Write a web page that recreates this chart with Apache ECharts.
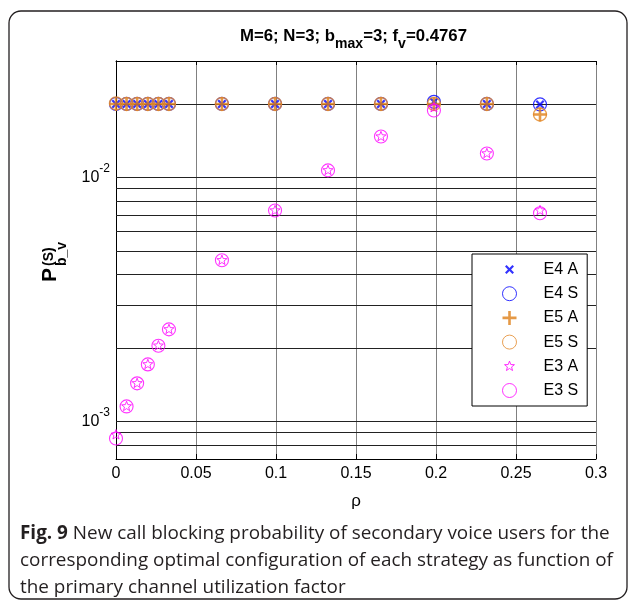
<!DOCTYPE html>
<html><head><meta charset="utf-8">
<script src="https://cdn.jsdelivr.net/npm/echarts@6/dist/echarts.min.js"></script>
<style>html,body{margin:0;padding:0;background:#fff}#c{width:630px;height:607px}</style>
</head><body><div id="c"></div>
<script>
// ---- data ----
const rho = [0, 0.0066, 0.0132, 0.0199, 0.0265, 0.0331, 0.0662, 0.0994, 0.1325, 0.1656, 0.1987, 0.2318, 0.2650];
const e4A = [0.0200, 0.0200, 0.0200, 0.0200, 0.0200, 0.0200, 0.0200, 0.0200, 0.0200, 0.0200, 0.0204, 0.0200, 0.0199];
const e4S = [0.0200, 0.0200, 0.0200, 0.0200, 0.0200, 0.0200, 0.0200, 0.0200, 0.0200, 0.0200, 0.0204, 0.0200, 0.0199];
const e5A = [0.0200, 0.0200, 0.0200, 0.0200, 0.0200, 0.0200, 0.0200, 0.0200, 0.0200, 0.0200, 0.0200, 0.0200, 0.0181];
const e5S = [0.0201, 0.0200, 0.0200, 0.0200, 0.0200, 0.0200, 0.0200, 0.0200, 0.0200, 0.0200, 0.0200, 0.0200, 0.0181];
const e3A = [0.00088, 0.00115, 0.00143, 0.00171, 0.00204, 0.00238, 0.00457, 0.00731, 0.01068, 0.0147, 0.0193, 0.01253, 0.00731];
const e3S = [0.00085, 0.00115, 0.00143, 0.00171, 0.00204, 0.00238, 0.00457, 0.00731, 0.01068, 0.0147, 0.0188, 0.01253, 0.00713];
const legendNames = ['E4 A', 'E4 S', 'E5 A', 'E5 S', 'E3 A', 'E3 S'];
const xMin = 0, xMax = 0.3, xStep = 0.05;
const yMin = 0.0007, yMax = 0.03;
const yGridValues = [0.0008, 0.0009, 0.001, 0.002, 0.003, 0.004, 0.005, 0.006, 0.007, 0.008, 0.009, 0.01, 0.02];

// ---- marker shapes ----
const SYM_X = 'path://M0 0M14 14M2.5 4.06L4.06 2.5L7 5.44L9.94 2.5L11.5 4.06L8.56 7L11.5 9.94L9.94 11.5L7 8.56L4.06 11.5L2.5 9.94L5.44 7Z';
const SYM_PLUS = 'path://M5.7 0H8.3V5.7H14V8.3H8.3V14H5.7V8.3H0V5.7H5.7Z';
const SYM_STAR = 'path://M0 0M14 14M7 1.8L8.293 5.22L11.945 5.393L9.092 7.68L10.057 11.207L7 9.2L3.943 11.207L4.908 7.68L2.055 5.393L5.707 5.22Z';

const BLUE = '#0000ff', ORANGE = '#df8018', MAG = '#ff00ff';
const FONT = '"Liberation Sans", Arial, Helvetica, sans-serif';
const CAPFONT = '"Open Sans", "Noto Sans", sans-serif';

function pts(ys) { return rho.map((x, i) => [x, ys[i]]); }
function sc(name, ys, symbol, size, style) {
  return { type: 'scatter', name, data: pts(ys), symbol, symbolSize: size, symbolKeepAspect: true,
    itemStyle: style, z: 3, silent: true, animation: false };
}
const clear = 'rgba(0,0,0,0)';

const chart = echarts.init(document.getElementById('c'), null, { renderer: 'canvas' });
chart.setOption({
  backgroundColor: '#fff',
  animation: false,
  grid: { left: 116, top: 61, width: 480, height: 398, outerBoundsMode: 'none', containLabel: false },
  xAxis: [
    { type: 'value', min: xMin, max: xMax, interval: xStep, position: 'bottom',
      axisLine: { show: true, lineStyle: { color: '#000', width: 1 } },
      axisTick: { show: true, inside: true, length: 5, lineStyle: { color: '#000' } },
      axisLabel: { color: '#000', fontSize: 16, fontFamily: FONT, margin: 7 },
      splitLine: { show: true, lineStyle: { color: '#808080', width: 1 } },
      name: 'ρ', nameLocation: 'middle', nameGap: 34,
      nameTextStyle: { color: '#000', fontSize: 17, fontFamily: FONT } },
    { type: 'value', min: xMin, max: xMax, interval: xStep, position: 'top',
      axisLine: { show: true, lineStyle: { color: '#000', width: 1 } },
      axisTick: { show: true, inside: true, length: 4, lineStyle: { color: '#000' } },
      axisLabel: { show: false }, splitLine: { show: false } }
  ],
  yAxis: [
    { type: 'log', logBase: 10, min: yMin, max: yMax, position: 'left',
      axisLine: { show: true, lineStyle: { color: '#000', width: 1 } },
      axisTick: { show: false }, splitLine: { show: false }, minorTick: { show: false },
      axisLabel: { margin: 6, color: '#000',
        formatter: v => { const e = Math.log10(v); const r = Math.round(e);
          return Math.abs(e - r) < 1e-6 ? '{b|10}{s|' + r + '}' : ''; },
        rich: { b: { fontSize: 16, fontFamily: FONT, color: '#000', lineHeight: 30 },
                s: { fontSize: 12, fontFamily: FONT, color: '#000', lineHeight: 12, verticalAlign: 'top' } } } },
    { type: 'log', logBase: 10, min: yMin, max: yMax, position: 'right',
      axisLine: { show: true, lineStyle: { color: '#000', width: 1 } },
      axisTick: { show: false }, splitLine: { show: false }, axisLabel: { show: false } }
  ],
  legend: {
    data: [
      { name: 'E4 A', itemStyle: { borderWidth: 0 } },
      { name: 'E4 S', itemStyle: { borderWidth: 1 } },
      { name: 'E5 A', itemStyle: { borderWidth: 0 } },
      { name: 'E5 S', itemStyle: { borderWidth: 1 } },
      { name: 'E3 A', itemStyle: { borderWidth: 1 } },
      { name: 'E3 S', itemStyle: { borderWidth: 1 } }
    ],
    orient: 'vertical', left: 472, top: 254,
    itemWidth: 14, itemHeight: 14, itemGap: 8.2,
    padding: [7.5, 9, 7.5, 30],
    backgroundColor: '#fff', borderColor: '#000', borderWidth: 1, borderRadius: 0,
    selectedMode: false, symbolKeepAspect: true, z: 10,
    formatter: n => '{t|' + n + '}',
    textStyle: { color: '#000', fontSize: 16, fontFamily: FONT,
      rich: { t: { fontSize: 16, fontFamily: FONT, color: '#000', lineHeight: 14, padding: [0, 0, 0, 22] } } }
  },
  series: [
    { type: 'scatter', name: 'grid', data: [], silent: true, z: 1,
      markLine: { silent: true, symbol: ['none', 'none'], z: 1, animation: false, precision: 8,
        label: { show: false }, emphasis: { disabled: true },
        lineStyle: { color: '#222', width: 1, type: 'solid' },
        data: yGridValues.map(v => ({ yAxis: v })) } },
    sc('E4 A', e4A, SYM_X, 14, { color: BLUE }),
    sc('E4 S', e4S, 'circle', 13, { color: clear, borderColor: BLUE, borderWidth: 1.2 }),
    sc('E5 A', e5A, SYM_PLUS, 14, { color: ORANGE }),
    sc('E5 S', e5S, 'circle', 13, { color: clear, borderColor: '#e38a2a', borderWidth: 1.4 }),
    sc('E3 A', e3A, SYM_STAR, 14, { color: clear, borderColor: MAG, borderWidth: 1 }),
    sc('E3 S', e3S, 'circle', 13, { color: clear, borderColor: MAG, borderWidth: 1.1 })
  ],
  graphic: [
    { type: 'rect', silent: true, z: -10,
      shape: { x: 9, y: 11, width: 618, height: 588, r: 12 },
      style: { fill: 'none', stroke: '#231f20', lineWidth: 1.3 } },
    { type: 'text', x: 353.5, y: 36, silent: true,
      style: { text: '{m|M=6; N=3; b}{s|max}{m|=3; f}{s|v}{m|=0.4767}', align: 'center', verticalAlign: 'middle',
        rich: { m: { fontSize: 16.8, fontWeight: 'bold', fontFamily: FONT, fill: '#000', lineHeight: 30 },
                s: { fontSize: 14, fontWeight: 'bold', fontFamily: FONT, fill: '#000', lineHeight: 18, verticalAlign: 'bottom' } } } },
    { type: 'group', x: 50, y: 282, rotation: Math.PI / 2, silent: true, children: [
      { type: 'text', x: 0, y: 0.7, style: { text: 'P', fontSize: 21, fontWeight: 'bold', fontFamily: FONT, fill: '#000', align: 'left', verticalAlign: 'middle' } },
      { type: 'text', x: 16, y: -0.4, style: { text: '(S)', fontSize: 14, fontWeight: 'bold', fontFamily: FONT, fill: '#000', align: 'left', verticalAlign: 'middle' } },
      { type: 'text', x: 16, y: 12.4, style: { text: 'b_v', fontSize: 14, fontWeight: 'bold', fontFamily: FONT, fill: '#000', align: 'left', verticalAlign: 'middle' } }
    ] },
    { type: 'text', x: 20, y: 520.5, silent: true,
      style: { text: '{b|Fig. 9}{r| New call blocking probability of secondary voice users for the}\n{r|corresponding optimal configuration of each strategy as function of}\n{r|the primary channel utilization factor}',
        align: 'left', verticalAlign: 'top',
        rich: { b: { fontSize: 18.9, fontWeight: 'bold', fontFamily: CAPFONT, fill: '#231f20', lineHeight: 27 },
                r: { fontSize: 18.9, fontWeight: 'normal', fontFamily: CAPFONT, fill: '#231f20', lineHeight: 27 } } } }
  ]
});
</script></body></html>
